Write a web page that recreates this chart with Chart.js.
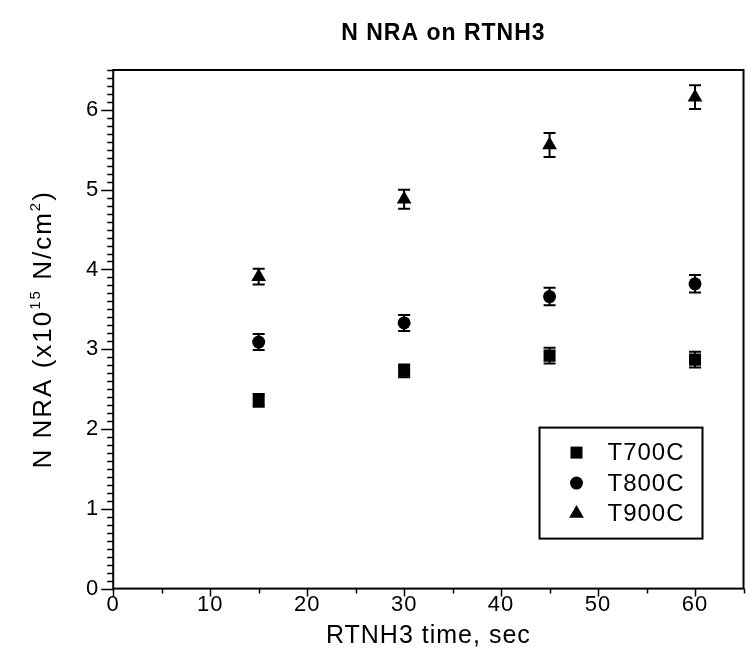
<!DOCTYPE html>
<html>
<head>
<meta charset="utf-8">
<title>N NRA on RTNH3</title>
<script src="https://cdn.jsdelivr.net/npm/chart.js@4.4.1/dist/chart.umd.min.js"></script>
<style>
    html, body { margin: 0; padding: 0; background: #fff; }
    #chart_wrap { width: 752px; height: 656px; }
</style>
</head>
<body>
<div id="chart_wrap"><canvas id="nra_chart"></canvas></div>
<script>
// anneal time on the x axis, N dose (1e15 N/cm2) on y
const times = [15, 30, 45, 60];

const t700 = [2.36, 2.73, 2.92, 2.87];
const t700Err = [0.08, 0.08, 0.10, 0.10];

const t800 = [3.09, 3.33, 3.66, 3.82];
const t800Err = [0.10, 0.10, 0.11, 0.11];

const t900 = [3.91, 4.88, 5.56, 6.16];
const t900Err = [0.10, 0.12, 0.15, 0.15];

const seriesNames = ['T700C', 'T800C', 'T900C'];
const xTickValues = [0, 10, 20, 30, 40, 50, 60];
const yTickValues = [0, 1, 2, 3, 4, 5, 6];
const chartTitle = 'N NRA on RTNH3';

const FONT = "'Liberation Sans', Arial, Helvetica, sans-serif";

function toPoints(xs, ys, errs) {
    return xs.map(function (x, i) {
        return { x: x, y: ys[i], err: errs[i] };
    });
}

// slightly wider letter spacing for all text drawn on this canvas
const wideText = {
    id: 'wideText',
    beforeLayout(chart) { chart.ctx.letterSpacing = '1px'; },
    beforeDraw(chart) { chart.ctx.letterSpacing = '1px'; }
};

// error bars with caps, drawn before the markers
const errorBars = {
    id: 'errorBars',
    beforeDatasetsDraw(chart) {
        const ctx = chart.ctx;
        const xs = chart.scales.x, ys = chart.scales.y;
        ctx.save();
        ctx.strokeStyle = '#000';
        ctx.lineWidth = 2;
        chart.data.datasets.forEach(function (ds) {
            ds.data.forEach(function (p) {
                const px = xs.getPixelForValue(p.x);
                const top = ys.getPixelForValue(p.y + p.err);
                const bot = ys.getPixelForValue(p.y - p.err);
                ctx.beginPath();
                ctx.moveTo(px, top); ctx.lineTo(px, bot);
                ctx.moveTo(px - 6, top); ctx.lineTo(px + 6, top);
                ctx.moveTo(px - 6, bot); ctx.lineTo(px + 6, bot);
                ctx.stroke();
            });
        });
        ctx.restore();
    }
};

// frame, outward ticks, legend box, heading and the y title with superscripts
const frameAndLegend = {
    id: 'frameAndLegend',
    afterDraw(chart) {
        const ctx = chart.ctx;
        const a = chart.chartArea;
        const xs = chart.scales.x, ys = chart.scales.y;
        ctx.save();
        ctx.strokeStyle = '#000';
        ctx.fillStyle = '#000';
        ctx.lineWidth = 2;
        ctx.strokeRect(a.left, a.top, a.right - a.left, a.bottom - a.top);

        ctx.lineWidth = 1.5;
        ctx.beginPath();
        // y: minor every 0.1, major every 1
        for (let i = 0; i <= 65; i++) {
            const py = Math.round(ys.getPixelForValue(i / 10)) + 0.5;
            const len = (i % 10 === 0) ? 12 : 6;
            ctx.moveTo(a.left - len, py); ctx.lineTo(a.left, py);
        }
        // x: minor every 5, major every 10
        for (let v = 0; v <= 65; v += 5) {
            const px = Math.round(xs.getPixelForValue(v)) + 0.5;
            const len = (v % 10 === 0) ? 8 : 5;
            ctx.moveTo(px, a.bottom); ctx.lineTo(px, a.bottom + len);
        }
        ctx.stroke();

        // heading
        ctx.font = 'bold 23px ' + FONT;
        ctx.textAlign = 'center';
        ctx.textBaseline = 'middle';
        ctx.fillText(chartTitle, (a.left + a.right) / 2 + 15, 34);

        // legend
        const bx = a.right - 204, by = a.bottom - 161, bw = 163, bh = 111;
        ctx.lineWidth = 2;
        ctx.strokeRect(bx, by, bw, bh);
        ctx.font = '24px ' + FONT;
        ctx.textAlign = 'left';
        chart.data.datasets.forEach(function (ds, i) {
            const cy = by + 25 + i * 30.5;
            Chart.helpers.drawPoint(ctx, {
                pointStyle: ds.pointStyle,
                radius: ds.pointRadius,
                borderWidth: 0,
                rotation: 0
            }, bx + 37, cy);
            ctx.fillStyle = '#000';
            ctx.fillText(ds.label, bx + 68, cy + 1);
        });

        // y axis title
        ctx.letterSpacing = '2px';
        ctx.translate(42, (a.top + a.bottom) / 2);
        ctx.rotate(-Math.PI / 2);
        const parts = [
            ['N NRA (x10', 26, 0],
            ['15', 15, -11],
            [' N/cm', 26, 0],
            ['2', 15, -11],
            [')', 26, 0]
        ];
        let total = 0;
        parts.forEach(function (p) {
            ctx.font = p[1] + 'px ' + FONT;
            total += ctx.measureText(p[0]).width;
        });
        let cx = -total / 2;
        ctx.textBaseline = 'alphabetic';
        parts.forEach(function (p) {
            ctx.font = p[1] + 'px ' + FONT;
            ctx.fillText(p[0], cx, 9 + p[2]);
            cx += ctx.measureText(p[0]).width;
        });
        ctx.restore();
    }
};

const ctx = document.getElementById('nra_chart').getContext('2d');
const nraChart = new Chart(ctx, {
    type: 'scatter',
    data: {
        datasets: [{
            label: seriesNames[0],
            data: toPoints(times, t700, t700Err),
            pointStyle: 'rect',
            pointRadius: 8.5,
            backgroundColor: '#000',
            borderWidth: 0
        }, {
            label: seriesNames[1],
            data: toPoints(times, t800, t800Err),
            pointStyle: 'circle',
            pointRadius: 6.5,
            backgroundColor: '#000',
            borderWidth: 0
        }, {
            label: seriesNames[2],
            data: toPoints(times, t900, t900Err),
            pointStyle: 'triangle',
            pointRadius: 8.5,
            backgroundColor: '#000',
            borderWidth: 0
        }]
    },
    options: {
        responsive: true,
        maintainAspectRatio: false,
        animation: false,
        layout: { padding: { left: 72, right: 6, top: 70, bottom: 5 } },
        plugins: {
            legend: { display: false },
            tooltip: { enabled: false },
            title: { display: false }
        },
        scales: {
            x: {
                type: 'linear',
                min: 0,
                max: 65,
                afterBuildTicks: function (scale) {
                    scale.ticks = xTickValues.map(function (v) { return { value: v }; });
                },
                grid: { display: false, drawTicks: false },
                border: { display: false },
                ticks: {
                    color: '#000',
                    padding: 3,
                    font: { family: FONT, size: 22 }
                },
                title: {
                    display: true,
                    text: 'RTNH3 time, sec',
                    color: '#000',
                    padding: { top: 0, bottom: 0 },
                    font: { family: FONT, size: 25 }
                }
            },
            y: {
                type: 'linear',
                min: 0,
                max: 6.5,
                afterBuildTicks: function (scale) {
                    scale.ticks = yTickValues.map(function (v) { return { value: v }; });
                },
                grid: { display: false, drawTicks: false },
                border: { display: false },
                ticks: {
                    color: '#000',
                    padding: 14,
                    font: { family: FONT, size: 22 }
                }
            }
        }
    },
    plugins: [wideText, errorBars, frameAndLegend]
});
</script>
</body>
</html>
